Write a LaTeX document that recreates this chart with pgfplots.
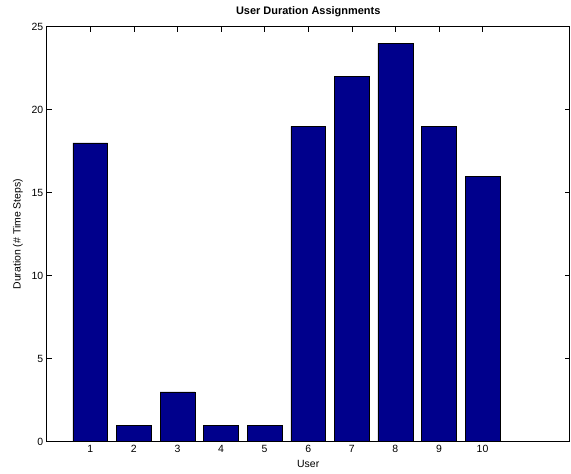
\documentclass[border=0pt]{standalone}
\usepackage{fontspec}
\setmainfont{Liberation Sans}
\usepackage{pgfplots}
\pgfplotsset{compat=1.18}
\definecolor{matnavy}{RGB}{0,0,140}
\begin{document}
\begin{tikzpicture}[x=1bp,y=1bp]
\path (-46.7bp,-32.3bp) rectangle (524.3bp,441.7bp);
\begin{axis}[
    at={(0,0)}, anchor=south west,
    scale only axis,
    width=523bp, height=415bp,
    xmin=0, xmax=12, ymin=0, ymax=25,
    xtick={1,...,10},
    ytick={0,5,...,25},
    tick align=inside,
    major tick length=5bp,
    axis line style={black, line width=0.6pt},
    tick style={black, line width=0.5pt},
    ticklabel style={font=\fontsize{10.5}{11}\selectfont},
    /pgf/number format/assume math mode=true,
    title={\textbf{User Duration Assignments}},
    title style={font=\fontsize{11}{12}\selectfont, yshift=0bp},
    xlabel={User},
    ylabel={Duration (\# Time Steps)},
    label style={font=\fontsize{10.5}{11}\selectfont},
    xlabel style={yshift=-1bp},
    ylabel style={yshift=2bp},
    ]
\addplot[ybar, bar width=0.8, fill=matnavy, draw=black, line width=0.5pt]
    coordinates {(1,18) (2,1) (3,3) (4,1) (5,1) (6,19) (7,22) (8,24) (9,19) (10,16)};
\end{axis}
\end{tikzpicture}
\end{document}
